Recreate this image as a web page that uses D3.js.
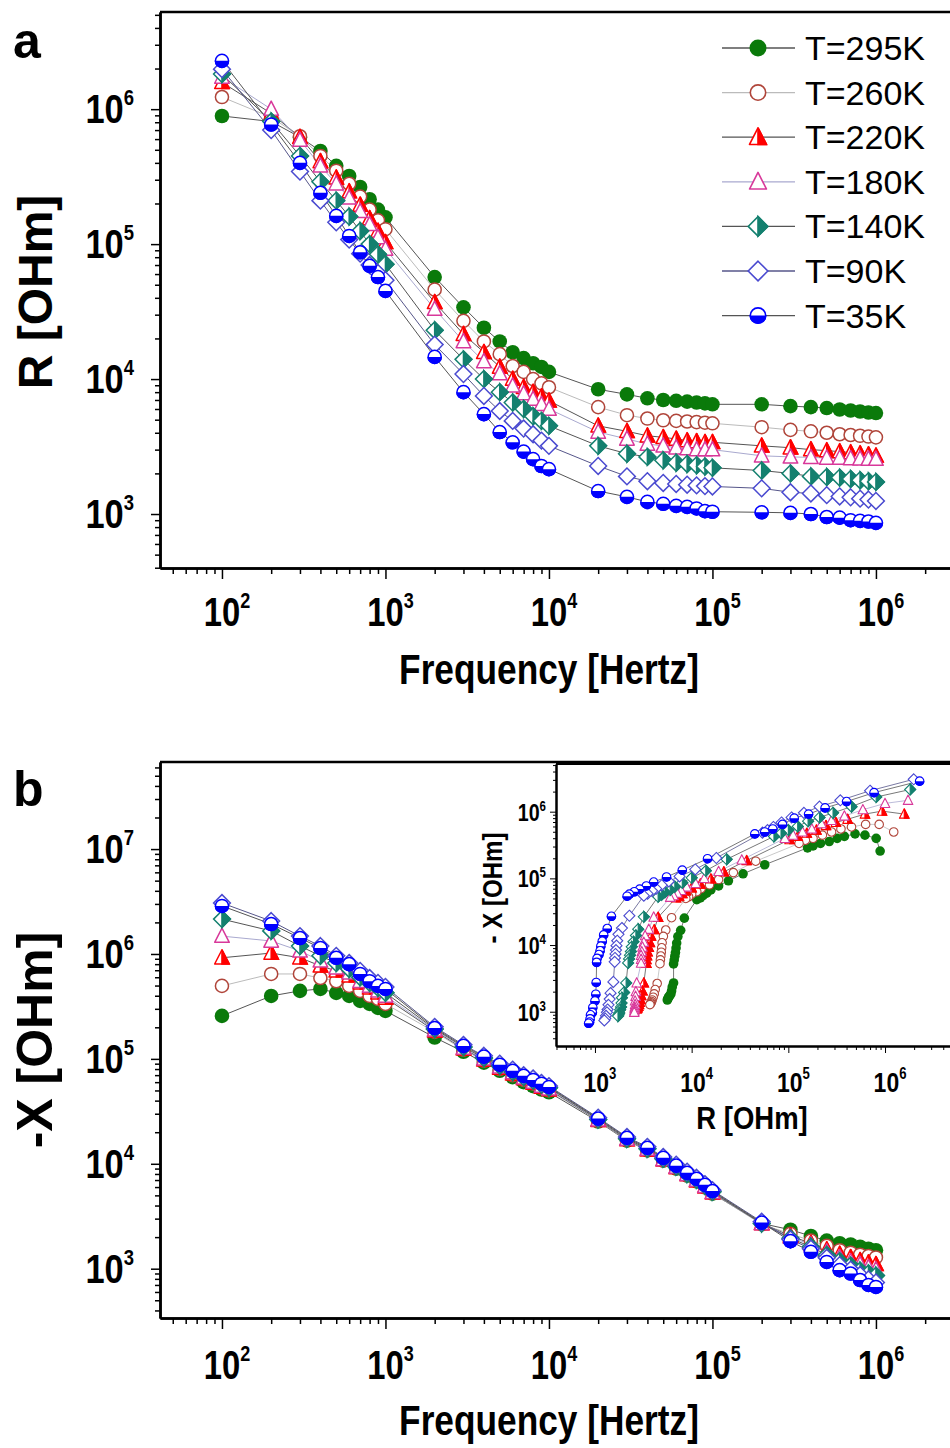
<!DOCTYPE html>
<html>
<head>
<meta charset="utf-8">
<script src="https://cdn.jsdelivr.net/npm/d3@7"></script>
<style>
  body { margin: 0; background: #fff; }
  svg { display: block; }
  .nb { font-family: "Liberation Sans Narrow", "Arial Narrow", "Liberation Sans", Arial, sans-serif; font-weight: bold; }
  .ab { font-family: "Liberation Sans", Arial, sans-serif; font-weight: bold; }
  .ar { font-family: "Liberation Sans", Arial, sans-serif; }
</style>
</head>
<body>
<div id="chart"></div>
<script>
var svgWidth = 950;
var svgHeight = 1448;

// measurement frequencies (Hz)
var freq = [100, 200, 300, 400, 500, 600, 700, 800, 900,
  1e3, 2e3, 3e3, 4e3, 5e3, 6e3, 7e3, 8e3, 9e3,
  1e4, 2e4, 3e4, 4e4, 5e4, 6e4, 7e4, 8e4, 9e4,
  1e5, 2e5, 3e5, 4e5, 5e5, 6e5, 7e5, 8e5, 9e5, 1e6];

var temps = ["T=295K", "T=260K", "T=220K", "T=180K", "T=140K", "T=90K", "T=35K"];

// R [OHm]  (panel a)
var R295 = [8.9e5, 8.1e5, 6.2e5, 4.9e5, 3.8e5, 3.2e5, 2.65e5, 2.15e5, 1.8e5, 1.58e5,
  5.7e4, 3.4e4, 2.4e4, 1.9e4, 1.58e4, 1.43e4, 1.31e4, 1.23e4, 1.13e4,
  8.4e3, 7.7e3, 7.2e3, 7.0e3, 6.9e3, 6.8e3, 6.7e3, 6.6e3, 6.5e3,
  6.5e3, 6.3e3, 6.2e3, 6.1e3, 5.95e3, 5.85e3, 5.75e3, 5.65e3, 5.6e3];
var R260 = [1.23e6, 8.7e5, 6.3e5, 4.5e5, 3.5e5, 2.8e5, 2.25e5, 1.8e5, 1.5e5, 1.29e5,
  4.6e4, 2.7e4, 1.9e4, 1.53e4, 1.25e4, 1.13e4, 1.0e4, 9.3e3, 8.7e3,
  6.2e3, 5.4e3, 5.1e3, 4.95e3, 4.9e3, 4.85e3, 4.8e3, 4.75e3, 4.7e3,
  4.4e3, 4.2e3, 4.1e3, 4.0e3, 3.9e3, 3.85e3, 3.8e3, 3.75e3, 3.7e3];
var R220 = [1.58e6, 9.3e5, 6.2e5, 4.1e5, 3.1e5, 2.45e5, 1.95e5, 1.55e5, 1.25e5, 1.03e5,
  3.7e4, 2.15e4, 1.58e4, 1.23e4, 1.0e4, 8.7e3, 8.0e3, 7.4e3, 6.9e3,
  4.5e3, 4.1e3, 3.8e3, 3.7e3, 3.6e3, 3.5e3, 3.45e3, 3.4e3, 3.4e3,
  3.2e3, 3.1e3, 3.0e3, 2.95e3, 2.9e3, 2.85e3, 2.8e3, 2.75e3, 2.7e3];
var R180 = [1.73e6, 1.0e6, 5.9e5, 3.8e5, 2.8e5, 2.2e5, 1.75e5, 1.4e5, 1.12e5, 9.2e4,
  3.3e4, 1.9e4, 1.35e4, 1.1e4, 8.9e3, 7.8e3, 7.1e3, 6.5e3, 6.0e3,
  4.05e3, 3.6e3, 3.3e3, 3.2e3, 3.1e3, 3.05e3, 3.0e3, 3.0e3, 3.0e3,
  2.7e3, 2.65e3, 2.63e3, 2.6e3, 2.6e3, 2.58e3, 2.57e3, 2.56e3, 2.55e3];
var R140 = [1.82e6, 8.1e5, 4.5e5, 2.9e5, 2.1e5, 1.6e5, 1.25e5, 1.0e5, 8.4e4, 7.1e4,
  2.3e4, 1.4e4, 1.0e4, 8.0e3, 6.7e3, 6.0e3, 5.3e3, 4.9e3, 4.5e3,
  3.2e3, 2.8e3, 2.65e3, 2.5e3, 2.4e3, 2.35e3, 2.3e3, 2.25e3, 2.2e3,
  2.1e3, 2.0e3, 1.9e3, 1.88e3, 1.86e3, 1.82e3, 1.78e3, 1.75e3, 1.73e3];
var R90 = [1.98e6, 7.0e5, 3.45e5, 2.1e5, 1.45e5, 1.08e5, 8.5e4, 7.0e4, 6.1e4, 5.4e4,
  1.8e4, 1.09e4, 7.5e3, 5.8e3, 4.9e3, 4.3e3, 3.9e3, 3.5e3, 3.2e3,
  2.27e3, 1.9e3, 1.75e3, 1.7e3, 1.67e3, 1.65e3, 1.63e3, 1.61e3, 1.6e3,
  1.55e3, 1.45e3, 1.42e3, 1.38e3, 1.35e3, 1.33e3, 1.3e3, 1.28e3, 1.25e3];
var R35 = [2.28e6, 7.7e5, 4.0e5, 2.4e5, 1.62e5, 1.15e5, 8.7e4, 6.9e4, 5.7e4, 4.5e4,
  1.46e4, 8.0e3, 5.5e3, 4.05e3, 3.4e3, 2.9e3, 2.55e3, 2.27e3, 2.15e3,
  1.48e3, 1.34e3, 1.23e3, 1.19e3, 1.15e3, 1.13e3, 1.1e3, 1.05e3, 1.04e3,
  1.03e3, 1.02e3, 1.0e3, 950, 940, 900, 890, 880, 860];

// -X [OHm]  (panel b)
var X295 = [2.57e5, 3.98e5, 4.45e5, 4.64e5, 4.26e5, 3.98e5, 3.57e5, 3.34e5, 3.06e5, 2.87e5,
  1.6e5, 1.17e5, 9.2e4, 7.7e4, 6.7e4, 6.0e4, 5.5e4, 5.1e4, 4.8e4,
  2.53e4, 1.66e4, 1.34e4, 1.07e4, 9.0e3, 7.7e3, 6.8e3, 5.95e3, 5.2e3,
  2.7e3, 2.35e3, 2.05e3, 1.85e3, 1.75e3, 1.7e3, 1.62e3, 1.55e3, 1.5e3];
var X260 = [4.96e5, 6.45e5, 6.45e5, 5.9e5, 5.5e5, 4.96e5, 4.45e5, 3.98e5, 3.73e5, 3.34e5,
  1.81e5, 1.22e5, 9.6e4, 8.0e4, 7.0e4, 6.3e4, 5.8e4, 5.3e4, 5.0e4,
  2.57e4, 1.68e4, 1.35e4, 1.08e4, 9.1e3, 7.8e3, 6.85e3, 6.0e3, 5.25e3,
  2.65e3, 2.15e3, 1.85e3, 1.65e3, 1.5e3, 1.42e3, 1.36e3, 1.32e3, 1.28e3];
var X220 = [9.2e5, 1.02e6, 9.2e5, 7.7e5, 6.9e5, 6.2e5, 5.3e5, 4.75e5, 4.26e5, 3.81e5,
  1.85e5, 1.25e5, 9.8e4, 8.2e4, 7.2e4, 6.5e4, 5.9e4, 5.4e4, 5.1e4,
  2.6e4, 1.7e4, 1.36e4, 1.09e4, 9.2e3, 7.9e3, 6.9e3, 6.05e3, 5.3e3,
  2.7e3, 2.05e3, 1.75e3, 1.52e3, 1.38e3, 1.28e3, 1.2e3, 1.14e3, 1.1e3];
var X180 = [1.48e6, 1.33e6, 1.07e6, 8.6e5, 7.4e5, 6.6e5, 5.5e5, 4.96e5, 4.45e5, 3.98e5,
  1.89e5, 1.27e5, 1.0e5, 8.4e4, 7.4e4, 6.6e4, 6.0e4, 5.5e4, 5.2e4,
  2.62e4, 1.72e4, 1.38e4, 1.1e4, 9.3e3, 7.95e3, 7.0e3, 6.1e3, 5.35e3,
  2.7e3, 2.0e3, 1.7e3, 1.45e3, 1.28e3, 1.17e3, 1.1e3, 1.03e3, 980];
var X140 = [2.15e6, 1.66e6, 1.19e6, 9.6e5, 8.2e5, 7.2e5, 6.0e5, 5.3e5, 4.75e5, 4.26e5,
  1.93e5, 1.30e5, 1.02e5, 8.6e4, 7.5e4, 6.7e4, 6.2e4, 5.7e4, 5.3e4,
  2.65e4, 1.73e4, 1.39e4, 1.12e4, 9.4e3, 8.0e3, 7.05e3, 6.2e3, 5.4e3,
  2.7e3, 1.95e3, 1.62e3, 1.35e3, 1.18e3, 1.07e3, 960, 900, 860];
var X90 = [3.06e6, 2.06e6, 1.48e6, 1.19e6, 9.6e5, 8.2e5, 6.9e5, 5.9e5, 5.3e5, 4.85e5,
  2.02e5, 1.36e5, 1.07e5, 9.0e4, 7.9e4, 7.0e4, 6.5e4, 5.9e4, 5.5e4,
  2.75e4, 1.8e4, 1.45e4, 1.16e4, 9.8e3, 8.4e3, 7.35e3, 6.4e3, 5.6e3,
  2.8e3, 1.9e3, 1.55e3, 1.27e3, 1.08e3, 980, 870, 790, 740];
var X35 = [2.87e6, 1.93e6, 1.42e6, 1.14e6, 9.2e5, 8.0e5, 6.45e5, 5.5e5, 4.96e5, 4.64e5,
  1.97e5, 1.33e5, 1.05e5, 8.8e4, 7.7e4, 6.9e4, 6.3e4, 5.8e4, 5.4e4,
  2.7e4, 1.77e4, 1.42e4, 1.14e4, 9.6e3, 8.2e3, 7.2e3, 6.3e3, 5.5e3,
  2.75e3, 1.83e3, 1.45e3, 1.16e3, 970, 900, 780, 700, 670];

// tick labels (decades)
var freqTicks = [1e2, 1e3, 1e4, 1e5, 1e6];
var rTicks = [1e3, 1e4, 1e5, 1e6];
var xTicks = [1e3, 1e4, 1e5, 1e6, 1e7];
var insetRTicks = [1e3, 1e4, 1e5, 1e6];
var insetXTicks = [1e3, 1e4, 1e5, 1e6];

var rSeries = [R295, R260, R220, R180, R140, R90, R35];
var xSeries = [X295, X260, X220, X180, X140, X90, X35];

// marker kind, marker colour, connecting line colour
var styles = [
  { kind: "dot", color: "#0a7a0a", line: "#555" },
  { kind: "ring", color: "#b0453a", line: "#bbb" },
  { kind: "halfTri", color: "#ff0000", line: "#555" },
  { kind: "tri", color: "#d8389a", line: "#a9a9cf" },
  { kind: "halfDia", color: "#14806f", line: "#555" },
  { kind: "dia", color: "#4a4ad0", line: "#56568a" },
  { kind: "halfDot", color: "#0000ff", line: "#555" }
];

var svg = d3.select("#chart").append("svg")
  .attr("width", svgWidth)
  .attr("height", svgHeight);

// panel frames in pixels
var frameA = { left: 160, right: 950, top: 12, bottom: 568 };
var frameB = { left: 160, right: 950, top: 762, bottom: 1318 };
var frameI = { left: 556, right: 950, top: 764, bottom: 1046 };

var xFreq = d3.scaleLog().domain([Math.pow(10, 1.621), Math.pow(10, 6.453)]).range([frameA.left, frameA.right]);
var yR = d3.scaleLog().domain([Math.pow(10, 2.6), Math.pow(10, 6.72)]).range([frameA.bottom, frameA.top]);
var yX = d3.scaleLog().domain([Math.pow(10, 2.53), Math.pow(10, 7.83)]).range([frameB.bottom, frameB.top]);
var xIn = d3.scaleLog().domain([Math.pow(10, 2.597), Math.pow(10, 6.672)]).range([frameI.left, frameI.right]);
var yIn = d3.scaleLog().domain([Math.pow(10, 2.486), Math.pow(10, 6.715)]).range([frameI.bottom, frameI.top]);

// minor tick values 2..9 x 10^n inside the scale domain
function minorTicks(scale) {
  var dom = scale.domain();
  var lo = Math.floor(Math.log10(dom[0])), hi = Math.ceil(Math.log10(dom[1]));
  var out = [];
  for (var e = lo; e <= hi; e++) {
    for (var m = 2; m <= 9; m++) {
      var v = m * Math.pow(10, e);
      if (v >= dom[0] && v <= dom[1]) out.push(v);
    }
  }
  return out;
}

function styleAxis(g, w) {
  g.select(".domain").attr("stroke", "#000").attr("stroke-width", w);
  g.selectAll(".tick line").attr("stroke", "#000").attr("stroke-width", 1.5);
}

// condensed bold text: the narrow face is faked with a horizontal squeeze
function narrow(parent, x, y, size, sx, anchor, rot) {
  var t = `translate(${x},${y})` + (rot ? ` rotate(${rot})` : "") + ` scale(${sx},1)`;
  return parent.append("g").attr("transform", t)
    .append("text").attr("class", "nb").attr("font-size", size).attr("text-anchor", anchor);
}

// one marker drawn at the origin of a group
function drawMarker(g, kind, col, s, sw) {
  if (kind === "dot") {
    g.append("circle").attr("r", s).attr("fill", col);
  } else if (kind === "ring") {
    g.append("circle").attr("r", s - sw / 2).attr("fill", "#fff").attr("stroke", col).attr("stroke-width", sw);
  } else if (kind === "tri" || kind === "halfTri") {
    var h = s * 1.1, b = s * 0.85;
    g.append("path").attr("d", `M0,${-h}L${s},${b}L${-s},${b}Z`)
      .attr("fill", "#fff").attr("stroke", col).attr("stroke-width", sw).attr("stroke-linejoin", "round");
    if (kind === "halfTri") g.append("path").attr("d", `M0,${-h}L${s},${b}L0,${b}Z`).attr("fill", col).attr("stroke", col).attr("stroke-width", sw);
  } else if (kind === "dia" || kind === "halfDia") {
    var d = s * 1.15;
    g.append("path").attr("d", `M0,${-d}L${d},0L0,${d}L${-d},0Z`)
      .attr("fill", "#fff").attr("stroke", col).attr("stroke-width", sw);
    if (kind === "halfDia") g.append("path").attr("d", `M0,${-d}L${d},0L0,${d}Z`).attr("fill", col).attr("stroke", col).attr("stroke-width", sw);
  } else if (kind === "halfDot") {
    g.append("circle").attr("r", s - sw / 2).attr("fill", "#fff").attr("stroke", col).attr("stroke-width", sw);
    g.append("path").attr("d", `M${-s},0A${s},${s} 0 0 0 ${s},0Z`).attr("fill", col);
  }
}

// draw every series of one plot: lines first, then markers
function drawSeries(g, xs, ys, xVals, yVals, size, sw, lw) {
  xVals.forEach(function(xv, i) {
    var pts = xv.map((v, j) => [v, yVals[i][j]]);
    g.append("path")
      .datum(pts)
      .attr("fill", "none")
      .attr("stroke", styles[i].line)
      .attr("stroke-width", lw)
      .attr("d", d3.line().x(d => xs(d[0])).y(d => ys(d[1])));
  });
  xVals.forEach(function(xv, i) {
    var pts = xv.map((v, j) => [v, yVals[i][j]]);
    g.selectAll(null)
      .data(pts)
      .enter()
      .append("g")
      .attr("transform", d => `translate(${xs(d[0])},${ys(d[1])})`)
      .each(function() { drawMarker(d3.select(this), styles[i].kind, styles[i].color, size, sw); });
  });
}

function decadeLabel(sel, d, base, sup, dy) {
  sel.append("tspan").text("10").attr("font-size", base);
  sel.append("tspan").text(Math.round(Math.log10(d))).attr("font-size", sup).attr("dy", dy);
}

// frequency axis + left axis for a main panel
function drawPanel(frame, yScale, yTicks, labelY) {
  var g = svg.append("g");
  // top border
  g.append("line").attr("x1", frame.left).attr("x2", frame.right).attr("y1", frame.top).attr("y2", frame.top)
    .attr("stroke", "#000").attr("stroke-width", 2.5);

  var bottom = g.append("g").attr("transform", `translate(0,${frame.bottom})`);
  bottom.append("g").call(d3.axisBottom(xFreq).tickValues(minorTicks(xFreq)).tickSize(6).tickSizeOuter(0).tickFormat(""))
    .call(a => styleAxis(a, 2.5));
  bottom.append("g").call(d3.axisBottom(xFreq).tickValues(freqTicks).tickSize(11).tickSizeOuter(0).tickFormat(""))
    .call(a => styleAxis(a, 2.5));

  var left = g.append("g").attr("transform", `translate(${frame.left},0)`);
  left.append("g").call(d3.axisLeft(yScale).tickValues(minorTicks(yScale)).tickSize(5).tickSizeOuter(0).tickFormat(""))
    .call(a => styleAxis(a, 2.5));
  left.append("g").call(d3.axisLeft(yScale).tickValues(yTicks).tickSize(9).tickSizeOuter(0).tickFormat(""))
    .call(a => styleAxis(a, 2.5));

  freqTicks.forEach(function(d) {
    decadeLabel(narrow(g, xFreq(d) + 5, labelY, 40, 0.82, "middle"), d, 40, 22, -18);
  });
  yTicks.forEach(function(d) {
    decadeLabel(narrow(g, frame.left - 26, yScale(d) + 14, 41, 0.84, "end"), d, 41, 22, -18);
  });
  return g;
}

// ---- panel a ----
var panelA = drawPanel(frameA, yR, rTicks, 626);
drawSeries(panelA.append("g"), xFreq, yR, freq.map(() => freq).slice(0, 7), rSeries, 7.3, 1.5, 1);

narrow(panelA, 549, 684, 42, 0.84, "middle").text("Frequency [Hertz]");
panelA.append("text").attr("class", "ab").attr("text-anchor", "middle")
  .attr("transform", "translate(52,292) rotate(-90)").attr("font-size", 48).text("R [OHm]");
svg.append("text").attr("class", "ab").attr("x", 13).attr("y", 58).attr("font-size", 50).text("a");

// legend
var legend = svg.append("g");
temps.forEach(function(t, i) {
  var y = 48 + i * 44.6;
  legend.append("line").attr("x1", 722).attr("x2", 795).attr("y1", y).attr("y2", y)
    .attr("stroke", styles[i].line).attr("stroke-width", 1.3);
  drawMarker(legend.append("g").attr("transform", `translate(758,${y})`), styles[i].kind, styles[i].color, 8.5, 1.6);
  legend.append("text").attr("class", "ar").attr("x", 805).attr("y", y + 12).attr("font-size", 34).text(t);
});

// ---- panel b ----
var panelB = drawPanel(frameB, yX, xTicks, 1379);
drawSeries(panelB.append("g"), xFreq, yX, freq.map(() => freq).slice(0, 7), xSeries, 7.3, 1.5, 1);

narrow(panelB, 549, 1435, 42, 0.84, "middle").text("Frequency [Hertz]");
panelB.append("text").attr("class", "ab").attr("text-anchor", "middle")
  .attr("transform", "translate(52,1040) rotate(-90)").attr("font-size", 50).text("-X [OHm]");
svg.append("text").attr("class", "ab").attr("x", 13).attr("y", 806).attr("font-size", 50).text("b");

// ---- inset: -X vs R ----
var inset = svg.append("g");
inset.append("rect").attr("x", frameI.left).attr("y", frameI.top)
  .attr("width", frameI.right - frameI.left).attr("height", frameI.bottom - frameI.top).attr("fill", "#fff");
inset.append("line").attr("x1", frameI.left).attr("x2", frameI.right).attr("y1", frameI.top).attr("y2", frameI.top)
  .attr("stroke", "#000").attr("stroke-width", 2);

drawSeries(inset.append("g"), xIn, yIn, rSeries, xSeries, 4.8, 1.1, 0.8);

var ib = inset.append("g").attr("transform", `translate(0,${frameI.bottom})`);
ib.append("g").call(d3.axisBottom(xIn).tickValues(minorTicks(xIn)).tickSize(4).tickSizeOuter(0).tickFormat("")).call(a => styleAxis(a, 2));
ib.append("g").call(d3.axisBottom(xIn).tickValues(insetRTicks).tickSize(7).tickSizeOuter(0).tickFormat("")).call(a => styleAxis(a, 2));
var il = inset.append("g").attr("transform", `translate(${frameI.left},0)`);
il.append("g").call(d3.axisLeft(yIn).tickValues(minorTicks(yIn)).tickSize(3).tickSizeOuter(0).tickFormat("")).call(a => styleAxis(a, 2));
il.append("g").call(d3.axisLeft(yIn).tickValues(insetXTicks).tickSize(6).tickSizeOuter(0).tickFormat("")).call(a => styleAxis(a, 2));
inset.selectAll(".tick line").attr("stroke-width", 1);

insetRTicks.forEach(function(d) {
  decadeLabel(narrow(inset, xIn(d) + 5, 1092, 28, 0.82, "middle"), d, 28, 16, -13);
});
insetXTicks.forEach(function(d) {
  decadeLabel(narrow(inset, frameI.left - 10, yIn(d) + 9, 24, 0.82, "end"), d, 24, 14, -10);
});

narrow(inset, 752, 1129, 32, 0.86, "middle").text("R [OHm]");
narrow(inset, 502, 888, 28, 0.86, "middle", -90).text("- X [OHm]");
</script>
</body>
</html>
